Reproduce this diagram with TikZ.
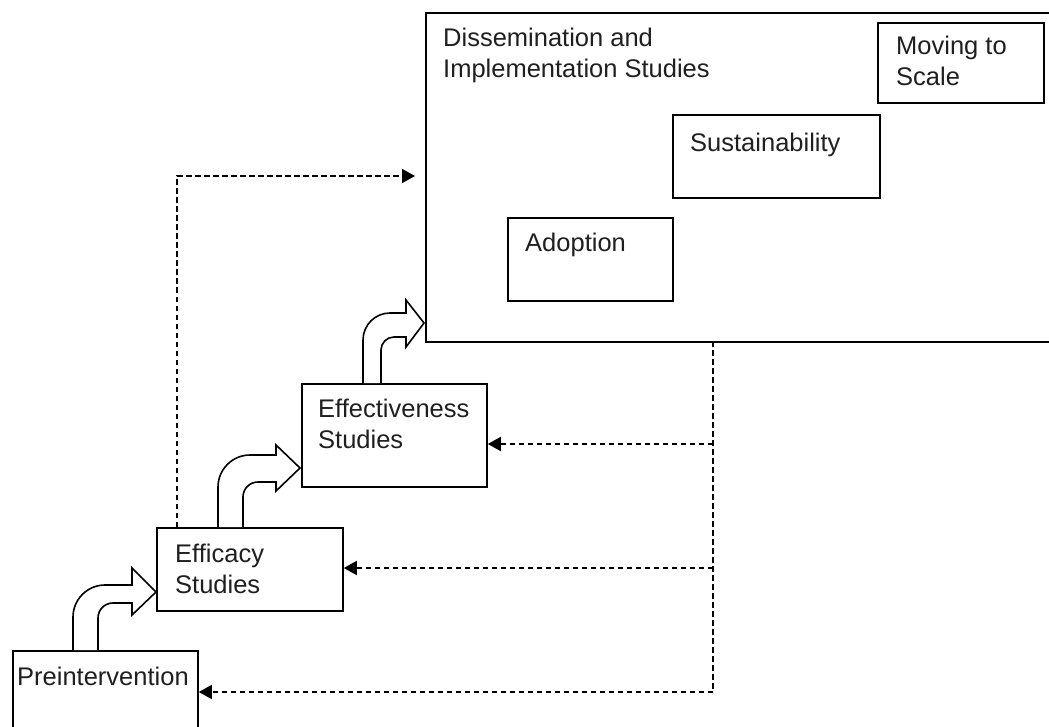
\documentclass[tikz,border=0pt]{standalone}
\usepackage{fontspec}
\setmainfont{Liberation Sans}
\usetikzlibrary{arrows.meta}
\tikzset{
 box/.style={draw, line width=1.8pt, inner sep=0pt, anchor=north west},
 lbl/.style={anchor=base west, inner sep=0pt, align=left, font=\fontsize{25.5}{31}\selectfont, text=black!88},
 dsh/.style={line width=1.6pt, dash pattern=on 5.5pt off 3.5pt},
 tipa/.style={-{Triangle[length=13pt,width=14pt]}},
 barrow/.style={draw, fill=white, line width=1.6pt, line join=miter}
}
\begin{document}
\begin{tikzpicture}[x=1pt,y=-1pt]
\useasboundingbox (0,0) rectangle (1049,727);
\clip (0,0) rectangle (1049,727);
% boxes
\node[box, minimum width=660pt, minimum height=329pt] (dis) at (425,12) {};
\node[lbl] (tdis) at (443,78) {Dissemination and\\Implementation Studies};
\node[box, minimum width=166pt, minimum height=80pt] (mts) at (877,22) {};
\node[lbl] (tmts) at (896,86) {Moving to\\Scale};
\node[box, minimum width=207pt, minimum height=83pt] (sust) at (672,114) {};
\node[lbl] (tsust) at (690,152) {Sustainability};
\node[box, minimum width=165pt, minimum height=83pt] (adopt) at (507,217) {};
\node[lbl] (tadopt) at (525,252) {Adoption};
\node[box, minimum width=185pt, minimum height=103pt] (effect) at (301,383) {};
\node[lbl] (teffect) at (318,448) {Effectiveness\\Studies};
\node[box, minimum width=186pt, minimum height=83pt] (effic) at (156,527) {};
\node[lbl] (teffic) at (175,593) {Efficacy\\Studies};
\node[box, minimum width=185pt, minimum height=120pt] (pre) at (12,650) {};
\node[lbl] (tpre) at (17,685) {Preintervention};
% block arrows
\path[barrow] (73,650) -- (73,617) .. controls (73,599.4) and (87.4,585) .. (105,585)
  -- (132,585) -- (132,568) -- (156,592) -- (132,615) -- (132,603) -- (113,603)
  .. controls (104.7,603) and (98,609.7) .. (98,618) -- (98,650);
\path[barrow] (218,527) -- (218,487) .. controls (218,469.4) and (232.4,455) .. (250,455)
  -- (276,455) -- (276,445) -- (300,468) -- (276,491) -- (276,482) -- (258,482)
  .. controls (249.7,482) and (243,488.7) .. (243,497) -- (243,527);
\path[barrow] (363,383) -- (363,340) .. controls (363,325.1) and (375.1,313) .. (390,313)
  -- (406,313) -- (406,300) -- (424,323) -- (406,347) -- (406,337) -- (394,337)
  .. controls (386.8,337) and (381,342.8) .. (381,350) -- (381,383);
% dashed feedback lines
\coordinate (v0) at (713,341);
\coordinate (v1) at (713,444);
\coordinate (v2) at (713,568);
\coordinate (v3) at (713,692);
\draw[dsh] (v0) -- (v3);
\draw[dsh,tipa] (v1) -- (v1 -| effect.east);
\draw[dsh,tipa] (v2) -- (v2 -| effic.east);
\draw[dsh,tipa] (v3) -- (v3 -| pre.east);
\coordinate (u0) at (177,527);
\coordinate (u1) at (425,176);
\draw[dsh,tipa,shorten >=10pt] (u0) |- (u1);
\end{tikzpicture}
\end{document}
